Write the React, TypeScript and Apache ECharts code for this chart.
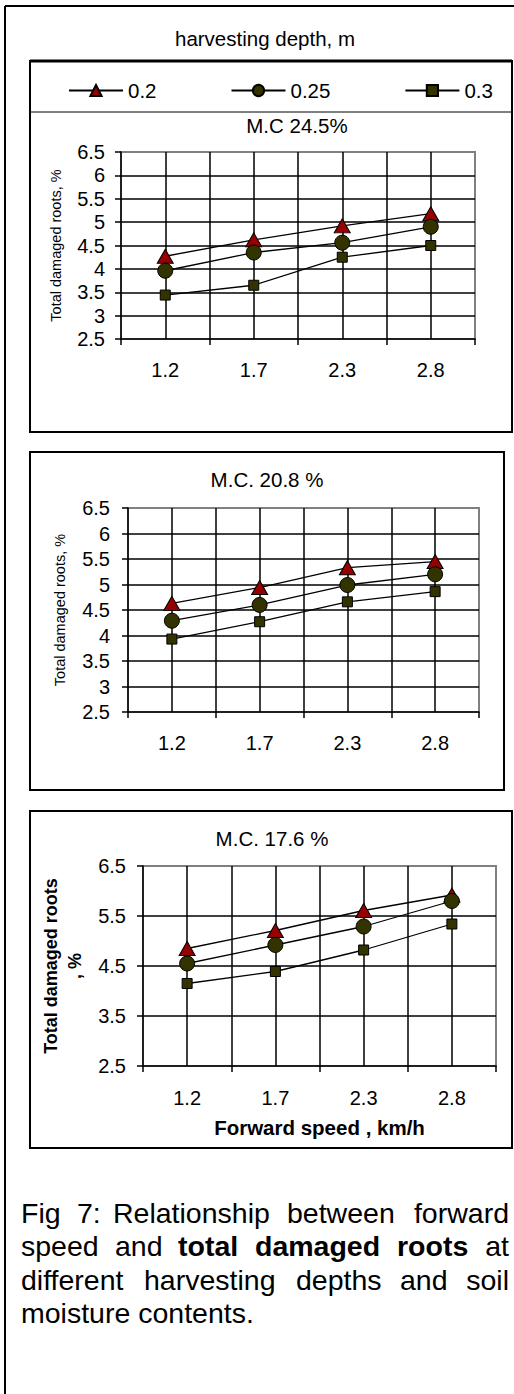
import React, { useEffect, useRef } from 'react';
import * as echarts from 'echarts';

// ---------- data ----------
const speeds = ['1.2', '1.7', '2.3', '2.8'];
const depths = ['0.2', '0.25', '0.3'];
const panelTitles = ['M.C 24.5%', 'M.C. 20.8 %', 'M.C. 17.6 %'];
const legendTitle = 'harvesting depth, m';

const mc245Depth020 = [4.27, 4.62, 4.92, 5.18];
const mc245Depth025 = [3.96, 4.35, 4.56, 4.9];
const mc245Depth030 = [3.44, 3.65, 4.25, 4.5];

const mc208Depth020 = [4.63, 4.94, 5.33, 5.45];
const mc208Depth025 = [4.29, 4.6, 4.99, 5.2];
const mc208Depth030 = [3.93, 4.27, 4.66, 4.86];

const mc176Depth020 = [4.85, 5.21, 5.61, 5.92];
const mc176Depth025 = [4.55, 4.92, 5.29, 5.8];
const mc176Depth030 = [4.15, 4.39, 4.82, 5.34];

const panelValues = [
  [mc245Depth020, mc245Depth025, mc245Depth030],
  [mc208Depth020, mc208Depth025, mc208Depth030],
  [mc176Depth020, mc176Depth025, mc176Depth030],
];

const yMin = 2.5;
const yMax = 6.5;
const yIntervals = [0.5, 0.5, 1];
const yNameSmall = 'Total damaged roots, %';
const yNameBold = 'Total damaged roots\n, %';
const xNameBold = 'Forward speed , km/h';

const captionLines = [
  ['Fig', '7:', 'Relationship', 'between', 'forward'],
  ['speed', 'and', 'total', 'damaged', 'roots', 'at'],
  ['different', 'harvesting', 'depths', 'and', 'soil'],
  ['moisture contents.'],
];
const captionBold = [
  [false, false, false, false, false],
  [false, false, true, true, true, false],
  [false, false, false, false, false],
  [false],
];

// ---------- layout / style ----------
const FONT = '"Liberation Sans", Arial, Helvetica, sans-serif';
const grids = [
  { left: 121, top: 152, width: 354, height: 187 },
  { left: 128, top: 508, width: 351, height: 204 },
  { left: 143, top: 866, width: 353, height: 200 },
];
const yLabelMargins = [16, 18, 17];
const titlePos = [
  [297, 125],
  [267, 479],
  [272, 838],
];
const symbols = ['triangle', 'circle', 'rect'];
const symbolSizes: any[] = [[16, 14], 15, 10];
const fills = ['#960000', '#333300', '#333300'];

// word x positions for the justified caption (align: l = left, r = right)
const captionX = [
  [[21, 'l'], [77, 'l'], [113, 'l'], [287, 'l'], [509, 'r']],
  [[21, 'l'], [115, 'l'], [178, 'l'], [255, 'l'], [397, 'l'], [509, 'r']],
  [[21, 'l'], [144, 'l'], [296, 'l'], [400, 'l'], [509, 'r']],
  [[21, 'l']],
];
const captionY = [1213, 1246, 1280, 1313];

export default function App() {
  const ref = useRef<HTMLDivElement>(null);

  useEffect(() => {
    if (!ref.current) return;
    const chart = echarts.init(ref.current, null, { renderer: 'svg' });

    const xAxis: any[] = [];
    const yAxis: any[] = [];
    const series: any[] = [];

    grids.forEach((g, p) => {
      xAxis.push({
        type: 'category',
        gridIndex: p,
        data: speeds,
        boundaryGap: true,
        position: 'bottom',
        axisLine: { show: true, lineStyle: { color: '#000', width: 1.5 } },
        axisTick: { show: true, length: 6, lineStyle: { color: '#000', width: 1.5 } },
        axisLabel: { fontSize: 20, color: '#000', margin: p === 2 ? 22 : 21, fontFamily: FONT },
        splitLine: { show: false },
        name: p === 2 ? xNameBold : '',
        nameLocation: 'middle',
        nameGap: 51,
        nameTextStyle: { fontSize: 20.5, fontWeight: 'bold', color: '#000', fontFamily: FONT },
      });
      xAxis.push({
        type: 'value',
        gridIndex: p,
        min: 0,
        max: 8,
        interval: 1,
        position: 'top',
        axisLine: { show: false },
        axisTick: { show: false },
        axisLabel: { show: false },
        splitLine: {
          show: true,
          showMinLine: false,
          showMaxLine: false,
          lineStyle: { color: '#000', width: 1.5 },
        },
      });
      yAxis.push({
        type: 'value',
        gridIndex: p,
        min: yMin,
        max: yMax,
        interval: yIntervals[p],
        axisLine: { show: true, lineStyle: { color: '#000', width: 1.5 } },
        axisTick: { show: true, length: 6, lineStyle: { color: '#000', width: 1.5 } },
        axisLabel: { fontSize: 20, color: '#000', margin: yLabelMargins[p], fontFamily: FONT },
        splitLine: {
          show: true,
          showMinLine: false,
          showMaxLine: false,
          lineStyle: { color: '#000', width: 1.5 },
        },
        name: p === 2 ? yNameBold : yNameSmall,
        nameLocation: 'middle',
        nameRotate: 90,
        nameGap: p === 2 ? 55 : p === 1 ? 61 : 58,
        nameTextStyle:
          p === 2
            ? { fontSize: 18, fontWeight: 'bold', lineHeight: 24, color: '#000', fontFamily: FONT }
            : { fontSize: 14.5, color: '#000', fontFamily: FONT },
      });
      panelValues[p].forEach((vals, d) => {
        series.push({
          type: 'line',
          name: depths[d],
          xAxisIndex: 2 * p,
          yAxisIndex: p,
          data: vals,
          symbol: symbols[d],
          symbolSize: symbolSizes[d],
          showAllSymbol: true,
          lineStyle: { color: '#000', width: 1.3 },
          itemStyle: { color: fills[d], borderColor: '#000', borderWidth: 1 },
          z: 3 + d,
        });
      });
    });

    const graphic: any[] = [
      { type: 'line', shape: { x1: 5, y1: 6, x2: 5, y2: 1394 }, style: { stroke: '#000', lineWidth: 2 } },
      { type: 'line', shape: { x1: 5, y1: 6, x2: 514, y2: 6 }, style: { stroke: '#000', lineWidth: 2 } },
      { type: 'rect', shape: { x: 30, y: 61, width: 482, height: 371 }, style: { fill: 'none', stroke: '#000', lineWidth: 2 } },
      { type: 'line', shape: { x1: 30, y1: 61, x2: 512, y2: 61 }, style: { stroke: '#000', lineWidth: 3 } },
      { type: 'line', shape: { x1: 30, y1: 112, x2: 512, y2: 112 }, style: { stroke: '#000', lineWidth: 1 } },
      { type: 'rect', shape: { x: 30, y: 452, width: 474, height: 338 }, style: { fill: 'none', stroke: '#000', lineWidth: 2 } },
      { type: 'rect', shape: { x: 30, y: 811, width: 482, height: 337 }, style: { fill: 'none', stroke: '#000', lineWidth: 2 } },
      {
        type: 'text',
        x: 265,
        y: 38,
        style: { text: legendTitle, fontSize: 20.5, fill: '#000', fontFamily: FONT, align: 'center', verticalAlign: 'middle' },
      },
    ];
    panelTitles.forEach((t, p) => {
      graphic.push({
        type: 'text',
        x: titlePos[p][0],
        y: titlePos[p][1],
        style: { text: t, fontSize: 20.5, fill: '#000', fontFamily: FONT, align: 'center', verticalAlign: 'middle' },
      });
    });
    captionLines.forEach((words, li) => {
      words.forEach((w, wi) => {
        const [x, al] = captionX[li][wi] as [number, string];
        graphic.push({
          type: 'text',
          x,
          y: captionY[li],
          style: {
            text: w,
            fontSize: 28.5,
            fontWeight: captionBold[li][wi] ? 'bold' : 'normal',
            fill: '#000',
            fontFamily: FONT,
            align: al === 'r' ? 'right' : 'left',
            verticalAlign: 'middle',
          },
        });
      });
    });

    chart.setOption({
      animation: false,
      backgroundColor: '#fff',
      textStyle: { fontFamily: FONT },
      grid: grids.map((g) => ({
        ...g,
        show: true,
        borderColor: '#808080',
        borderWidth: 2,
        backgroundColor: 'transparent',
        containLabel: false,
      })),
      legend: {
        data: depths,
        left: 68,
        top: 80,
        padding: 0,
        itemWidth: 54,
        itemHeight: 14,
        itemGap: 74,
        textStyle: { fontSize: 20.5, color: '#000', fontFamily: FONT },
        selectedMode: false,
      },
      xAxis,
      yAxis,
      series,
      graphic,
    });

    return () => chart.dispose();
  }, []);

  return (
    <div
      ref={ref}
      style={{ position: 'absolute', left: 0, top: 0, width: 514, height: 1394 }}
    />
  );
}
